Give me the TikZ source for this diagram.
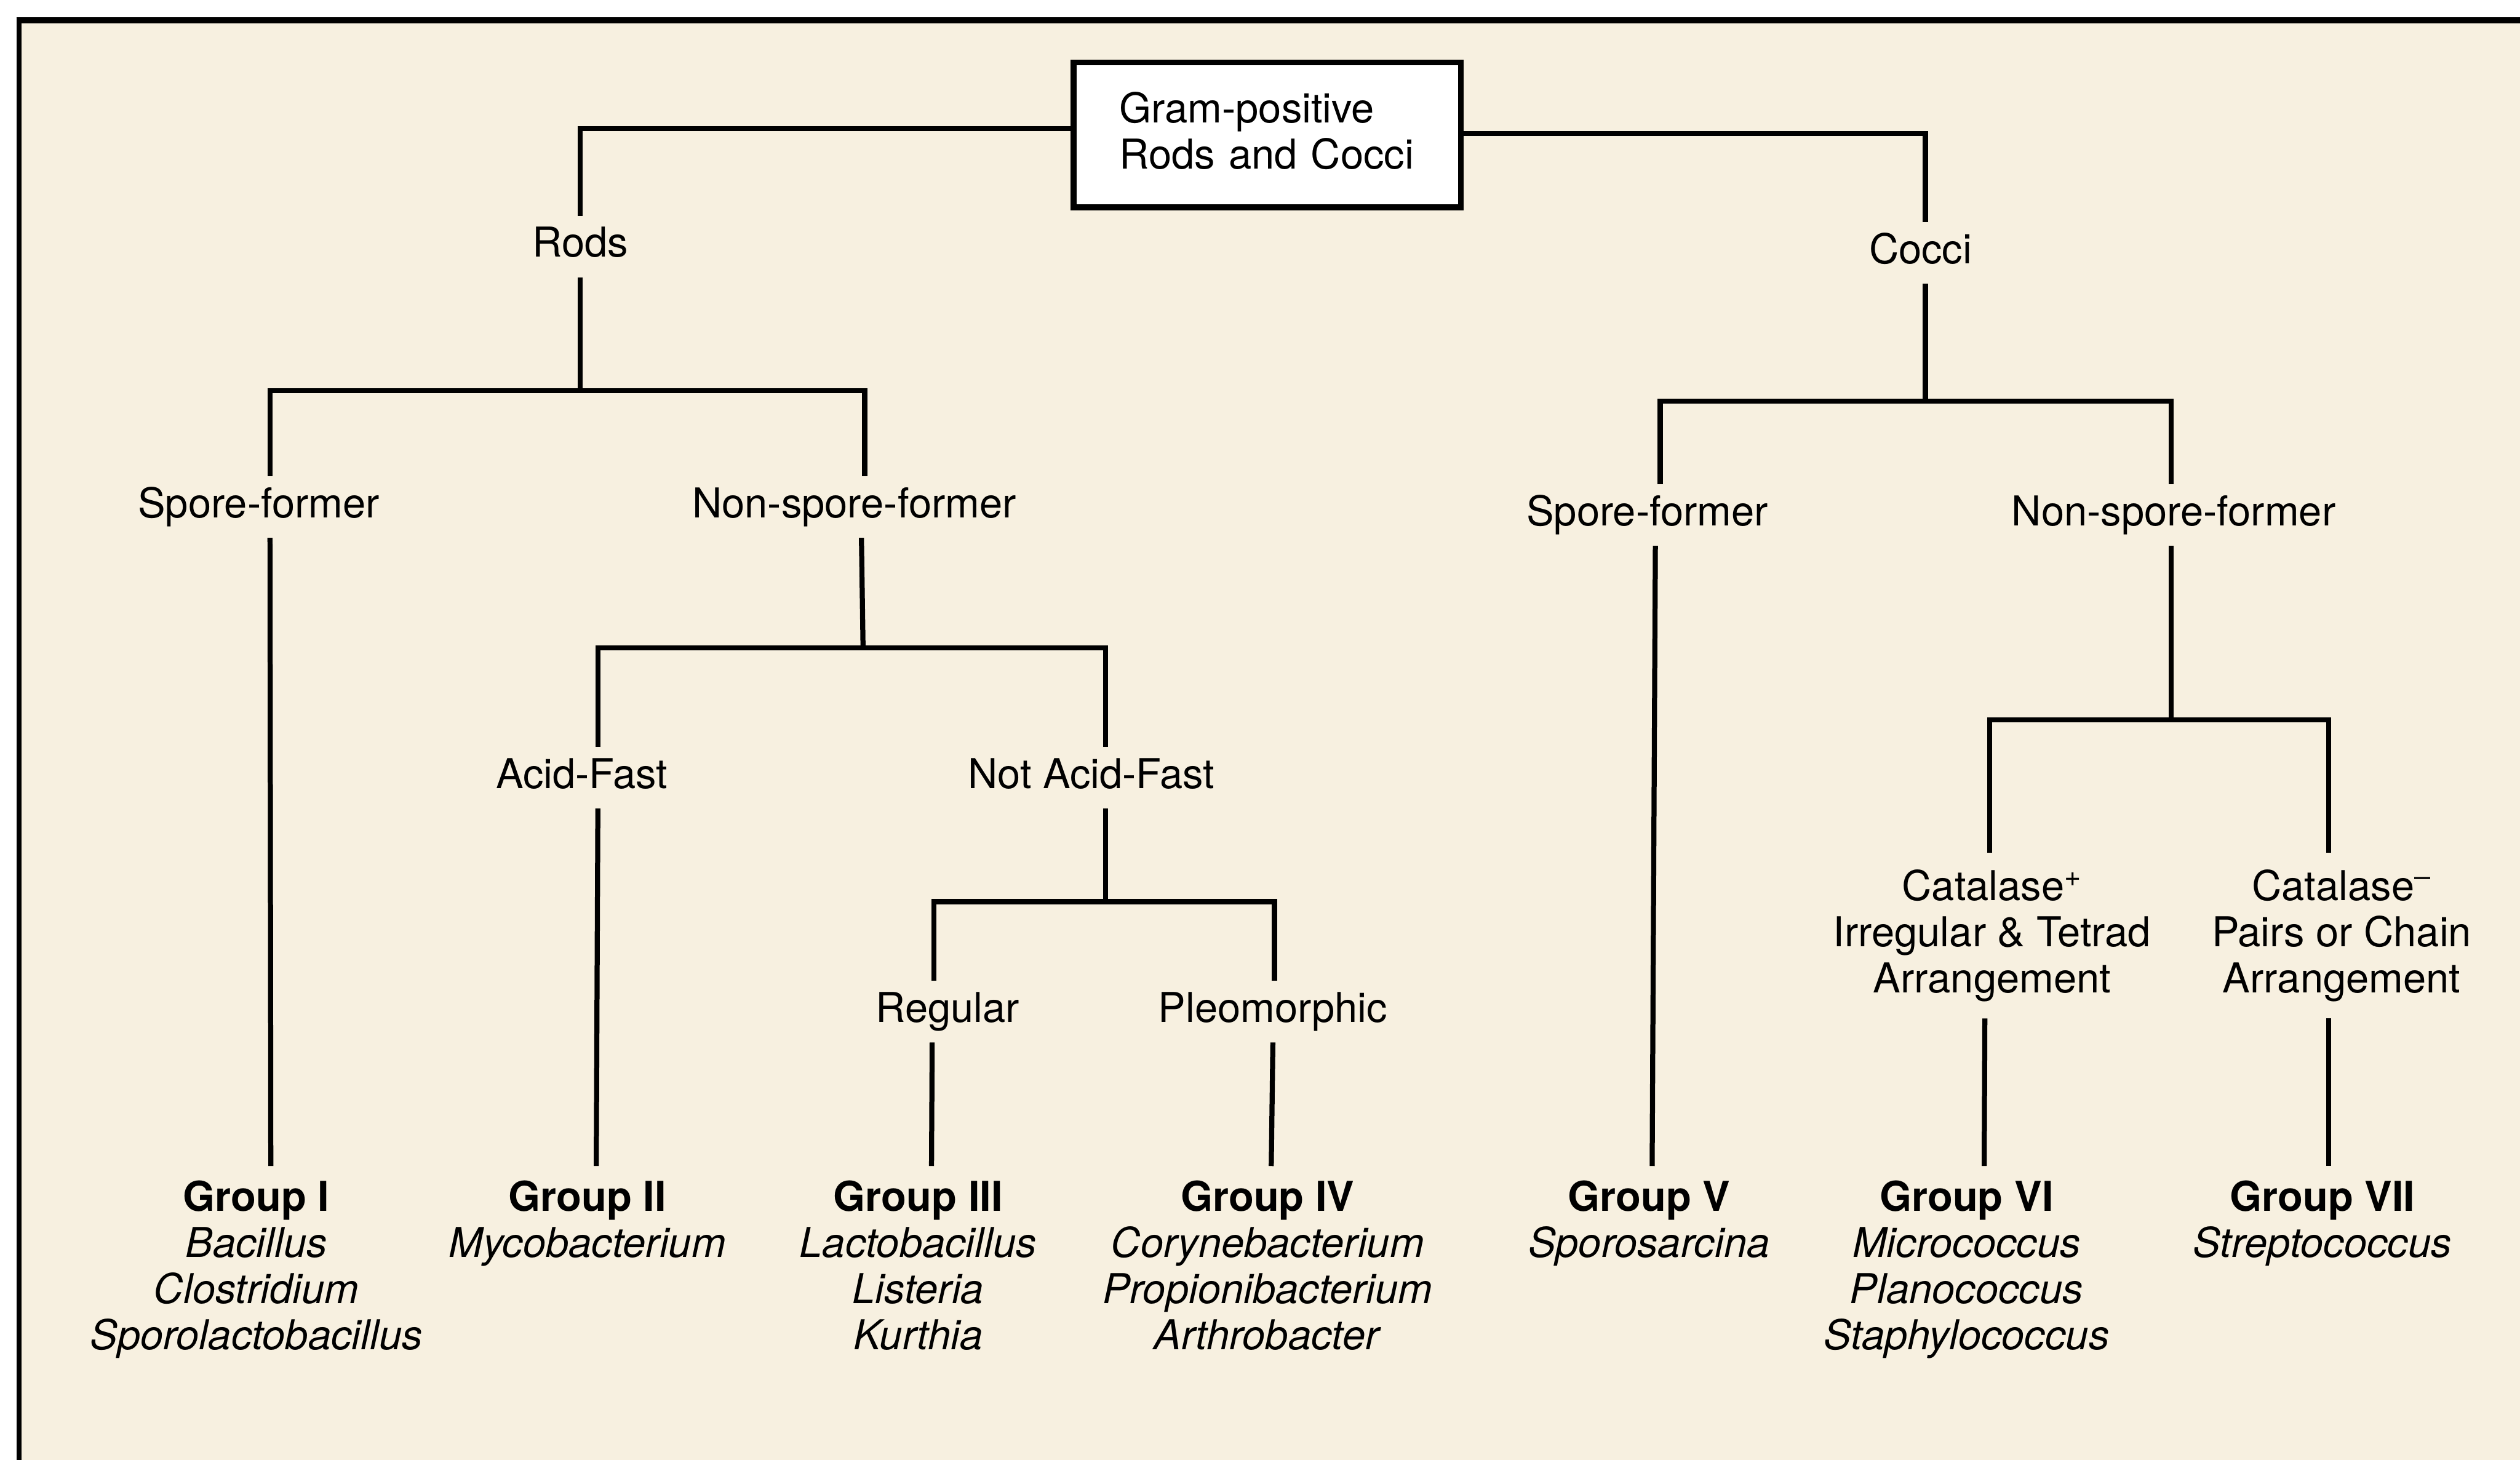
\documentclass[tikz,border=0pt]{standalone}
\usepackage{fontspec}
\setmainfont{TeX Gyre Heros}
\usetikzlibrary{calc}
\definecolor{paper}{RGB}{247,240,224}
\newcommand\chartfont{\fontsize{21.9pt}{24.55pt}\selectfont}
\begin{document}
\begin{tikzpicture}[x=0.8554pt,y=-0.8554pt,
  link/.style={line width=2.7pt, line join=miter},
  lbl/.style={font=\chartfont, inner xsep=0pt, inner ysep=6.1pt,
    text height=15.7pt, text depth=4.5pt, anchor=base},
  multi/.style={font=\chartfont, align=center, inner xsep=0pt, anchor=north},
  catbox/.style={multi, inner ysep=8.8pt},
  grp/.style={multi, inner ysep=7.5pt},
  rootbox/.style={draw, line width=3pt, fill=white, font=\chartfont,
    align=left, text width=157.4pt, inner xsep=24.4pt,
    minimum width=206.2pt, minimum height=77pt}]

\useasboundingbox (0,0) rectangle (1568,908.4);

% page and frame
\fill[white] (0,0) rectangle (1568,908.4);
\fill[paper] (11.7,12.6) rectangle (1568,908.4);
\draw[line width=3pt] (10.2,12.6) -- (1568,12.6);
\draw[line width=2.6pt] (11.7,11) -- (11.7,908.4);

% root
\node[rootbox] (top) at (788.5,84) {Gram-positive\\Rods and Cocci\rule[-4.6pt]{0pt}{0pt}};

% branch labels
\node[lbl] (rods)  at (361,160)   {Rods};
\node[lbl] (cocci) at (1195,164)  {Cocci};
\node[lbl] (sfL)   at (161,322)   {Spore-former};
\node[lbl] (nsfL)  at (531.5,322) {Non-spore-former};
\node[lbl] (sfR)   at (1025,327)  {Spore-former};
\node[lbl] (nsfR)  at (1352.5,327) {Non-spore-former};
\node[lbl] (af)    at (362,490.4) {Acid-Fast};
\node[lbl] (naf)   at (679,490.5) {Not Acid-Fast};
\node[lbl] (reg)   at (589.6,636) {Regular};
\node[lbl] (pleo)  at (792,636)   {Pleomorphic};
\node[catbox] (catp) at (1239.5,530.5) {Catalase\textsuperscript{+}\\Irregular \& Tetrad\\Arrangement};
\node[catbox] (catm) at (1457,530.5)   {Catalase\textsuperscript{\textendash}\\Pairs or Chain\\Arrangement};

% groups
\node[grp] (g1) at (159.5,725.5) {\textbf{Group I}\\\textit{Bacillus}\\\textit{Clostridium}\\\textit{Sporolactobacillus}};
\node[grp] (g2) at (365.5,725.5) {\textbf{Group II}\\\textit{Mycobacterium}};
\node[grp] (g3) at (571.3,725.5) {\textbf{Group III}\\\textit{Lactobacillus}\\\textit{Listeria}\\\textit{Kurthia}};
\node[grp] (g4) at (788.7,725.5) {\textbf{Group IV}\\\textit{Corynebacterium}\\\textit{Propionibacterium}\\\textit{Arthrobacter}};
\node[grp] (g5) at (1026,725.5)  {\textbf{Group V}\\\textit{Sporosarcina}};
\node[grp] (g6) at (1223.6,725.5) {\textbf{Group VI}\\\textit{Micrococcus}\\\textit{Planococcus}\\\textit{Staphylococcus}};
\node[grp] (g7) at (1445,725.5)  {\textbf{Group VII}\\\textit{Streptococcus}};

% branch bars
\coordinate (bR) at (361,243);
\coordinate (bN) at (537,403);
\coordinate (bA) at (688,561);
\coordinate (bC) at (1198,249.5);
\coordinate (bK) at (1351,448);

% connectors
\draw[link] ($(top.west)+(0,-4)$) -| (rods.north);
\draw[link] ($(top.east)+(0,-1)$) -| ($(cocci.north)+(3,0)$);

\draw[link] (rods.south) -- (bR);
\draw[link] ($(sfL.north)+(7,0)$) |- (bR) -| ($(nsfL.north)+(6.5,0)$);
\draw[link] ($(sfL.south)+(7,0)$) -- ($(g1.north)+(9,0)$);

\draw[link] ($(nsfL.south)+(4.5,0)$) -- (bN);
\draw[link] ($(af.north)+(10,0)$) |- (bN) -| ($(naf.north)+(9,0)$);
\draw[link] ($(af.south)+(10,0)$) -- ($(g2.north)+(5.5,0)$);

\draw[link] ($(naf.south)+(9,0)$) -- (bA);
\draw[link] ($(reg.north)+(-8.6,0)$) |- (bA) -| ($(pleo.north)+(1,0)$);
\draw[link] ($(reg.south)+(-9.6,0)$) -- ($(g3.north)+(8.3,0)$);
\draw[link] (pleo.south) -- ($(g4.north)+(2.3,0)$);

\draw[link] ($(cocci.south)+(3,0)$) -- (bC);
\draw[link] ($(sfR.north)+(8,0)$) |- (bC) -| ($(nsfR.north)+(-1.5,0)$);
\draw[link] ($(sfR.south)+(5,0)$) -- ($(g5.north)+(2,0)$);

\draw[link] ($(nsfR.south)+(-1.5,0)$) -- (bK);
\draw[link] ($(catp.north)+(-1.5,0)$) |- (bK) -| ($(catm.north)+(-8,0)$);
\draw[link] ($(catp.south)+(-4.5,0)$) -- ($(g6.north)+(11,0)$);
\draw[link] ($(catm.south)+(-8,0)$) -- ($(g7.north)+(4,0)$);

\end{tikzpicture}
\end{document}
